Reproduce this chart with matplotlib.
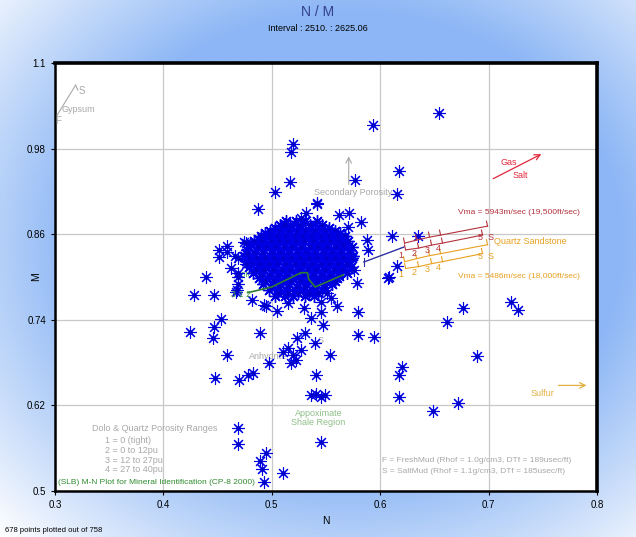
#M-N crossplot for mineral identification, redrawn from the log analysis screenshot

import numpy as np
import matplotlib.pyplot as plt

plt.rcParams['font.family'] = ['Liberation Sans Narrow', 'Liberation Sans', 'DejaVu Sans']

# Scattered points (N, M)
n_out = [0.654, 0.593, 0.520, 0.518, 0.517, 0.503, 0.487, 0.577, 0.617, 0.616,
         0.512, 0.542, 0.611, 0.635, 0.616, 0.608, 0.676, 0.662, 0.721, 0.727,
         0.689, 0.620, 0.617, 0.617, 0.649, 0.672, 0.469, 0.469, 0.495, 0.489,
         0.491, 0.493, 0.510, 0.545, 0.536, 0.541, 0.545, 0.549, 0.447, 0.467,
         0.428, 0.489, 0.459, 0.448, 0.470, 0.478, 0.483, 0.497, 0.510, 0.515,
         0.520, 0.522, 0.527, 0.518, 0.531, 0.523, 0.540, 0.547, 0.545, 0.554,
         0.541, 0.580, 0.580, 0.594, 0.425, 0.447, 0.453, 0.446, 0.451, 0.451,
         0.459, 0.469, 0.476, 0.477, 0.468, 0.469, 0.511, 0.542, 0.562, 0.571,
         0.582, 0.570, 0.588, 0.589, 0.474, 0.459, 0.466, 0.476, 0.469, 0.469,
         0.579, 0.576, 0.607, 0.493, 0.495, 0.505, 0.515, 0.530, 0.545, 0.555,
         0.560, 0.439, 0.462, 0.482, 0.536, 0.551, 0.566, 0.532, 0.527]
m_out = [1.030, 1.013, 0.987, 0.975, 0.933, 0.919, 0.895, 0.936, 0.949, 0.916,
         0.874, 0.902, 0.857, 0.857, 0.815, 0.800, 0.756, 0.737, 0.765, 0.754,
         0.689, 0.674, 0.662, 0.632, 0.612, 0.623, 0.588, 0.566, 0.553, 0.542,
         0.531, 0.512, 0.525, 0.568, 0.634, 0.636, 0.632, 0.635, 0.775, 0.779,
         0.775, 0.721, 0.690, 0.658, 0.655, 0.662, 0.665, 0.679, 0.695, 0.700,
         0.690, 0.683, 0.697, 0.680, 0.721, 0.715, 0.707, 0.733, 0.751, 0.690,
         0.662, 0.751, 0.719, 0.716, 0.723, 0.730, 0.741, 0.714, 0.838, 0.828,
         0.835, 0.827, 0.848, 0.834, 0.782, 0.805, 0.873, 0.904, 0.887, 0.890,
         0.877, 0.870, 0.852, 0.838, 0.849, 0.843, 0.830, 0.818, 0.800, 0.790,
         0.791, 0.810, 0.798, 0.761, 0.760, 0.752, 0.764, 0.757, 0.765, 0.770,
         0.760, 0.800, 0.812, 0.768, 0.742, 0.778, 0.846, 0.890, 0.882]

# Dense core of the cloud, one row of N readings for each M level
core_m = [0.878, 0.869, 0.861, 0.853, 0.846, 0.838, 0.830, 0.822, 0.814,
          0.806, 0.798, 0.790, 0.782, 0.774]
core_n = [
    [0.513, 0.522, 0.531, 0.542],
    [0.503, 0.511, 0.519, 0.527, 0.536, 0.544, 0.553],
    [0.494, 0.501, 0.509, 0.517, 0.524, 0.532, 0.540, 0.548, 0.556, 0.563],
    [0.487, 0.494, 0.502, 0.509, 0.517, 0.525, 0.533, 0.541, 0.549, 0.557, 0.565],
    [0.481, 0.489, 0.497, 0.505, 0.512, 0.520, 0.528, 0.536, 0.543, 0.551, 0.559, 0.567],
    [0.477, 0.485, 0.493, 0.500, 0.508, 0.516, 0.523, 0.531, 0.539, 0.547, 0.555, 0.563, 0.571],
    [0.474, 0.482, 0.490, 0.498, 0.505, 0.513, 0.521, 0.529, 0.537, 0.545, 0.553, 0.561, 0.569, 0.575],
    [0.476, 0.484, 0.492, 0.500, 0.507, 0.515, 0.523, 0.531, 0.539, 0.547, 0.555, 0.563, 0.571],
    [0.479, 0.487, 0.495, 0.503, 0.511, 0.518, 0.526, 0.534, 0.542, 0.550, 0.558, 0.566, 0.573],
    [0.483, 0.491, 0.499, 0.507, 0.514, 0.522, 0.530, 0.538, 0.546, 0.554, 0.562, 0.569],
    [0.488, 0.496, 0.504, 0.512, 0.520, 0.528, 0.536, 0.544, 0.552, 0.560],
    [0.492, 0.500, 0.508, 0.516, 0.524, 0.532, 0.540, 0.548, 0.556],
    [0.497, 0.505, 0.513, 0.521, 0.529, 0.537, 0.546],
    [0.503, 0.512, 0.520, 0.531, 0.539],
]
# second pass of readings between the rows above
core_m2 = [0.873, 0.865, 0.857, 0.850, 0.842, 0.834, 0.826, 0.818, 0.810,
           0.802, 0.794, 0.786, 0.778]
core_n2 = [
    [0.508, 0.517, 0.526, 0.535, 0.546],
    [0.498, 0.507, 0.515, 0.523, 0.531, 0.540, 0.549, 0.558],
    [0.490, 0.498, 0.505, 0.513, 0.521, 0.529, 0.537, 0.545, 0.553, 0.561, 0.568],
    [0.484, 0.491, 0.499, 0.507, 0.514, 0.522, 0.530, 0.538, 0.546, 0.554, 0.562, 0.570],
    [0.479, 0.487, 0.495, 0.503, 0.511, 0.519, 0.527, 0.535, 0.543, 0.551, 0.559, 0.567, 0.574],
    [0.476, 0.484, 0.492, 0.500, 0.508, 0.516, 0.524, 0.532, 0.540, 0.548, 0.556, 0.564, 0.572],
    [0.478, 0.486, 0.494, 0.502, 0.510, 0.518, 0.526, 0.534, 0.542, 0.550, 0.558, 0.566, 0.574],
    [0.481, 0.489, 0.497, 0.505, 0.513, 0.521, 0.529, 0.537, 0.545, 0.553, 0.561, 0.569],
    [0.485, 0.493, 0.501, 0.509, 0.517, 0.525, 0.533, 0.541, 0.549, 0.557, 0.565],
    [0.490, 0.498, 0.506, 0.514, 0.522, 0.530, 0.538, 0.546, 0.554, 0.562],
    [0.494, 0.502, 0.510, 0.518, 0.526, 0.534, 0.542, 0.550, 0.558],
    [0.499, 0.507, 0.515, 0.523, 0.531, 0.540, 0.549],
    [0.506, 0.515, 0.524, 0.534, 0.543],
]

# Reference overlays of the chart template
gypsum_n = [0.302, 0.319]
gypsum_m = [1.027, 1.069]
matrix_n = [0.585, 0.622]
matrix_m = [0.821, 0.842]
red_s_n = [0.6226, 0.6336, 0.6456, 0.6558, 0.6991]
red_s_m = [0.8475, 0.8517, 0.8559, 0.8587, 0.8713]
red_f_n = [0.6235, 0.6355, 0.6475, 0.6576, 0.6945]
red_f_m = [0.8380, 0.8405, 0.8447, 0.8475, 0.8588]
org_s_m = [0.8215, 0.8257, 0.8299, 0.8327, 0.8453]
org_f_m = [0.8120, 0.8145, 0.8187, 0.8215, 0.8328]
dolo_n = [0.478, 0.500, 0.527, 0.533, 0.534, 0.540, 0.566]
dolo_m = [0.778, 0.786, 0.806, 0.806, 0.797, 0.786, 0.803]

x_ticks = [0.3, 0.4, 0.5, 0.6, 0.7, 0.8]
y_ticks = [0.5, 0.62, 0.74, 0.86, 0.98, 1.1]
y_labels = ['0.5', '0.62', '0.74', '0.86', '0.98', '1.1']

fig = plt.figure(figsize=(6.36, 5.37), dpi=100)

# blue glow behind the plot
gx, gy = np.meshgrid(np.linspace(0, 1, 200), np.linspace(0, 1, 200))
r = np.sqrt((gx - 0.55) ** 2 + (gy - 0.55) ** 2)
t = np.clip((0.78 - r) / 0.35, 0, 1)[..., None]
blue = np.array([140, 182, 245]) / 255.0
bg = (1 - t) * np.ones(3) + t * blue
bgax = fig.add_axes([0, 0, 1, 1], zorder=-5)
bgax.imshow(bg, origin='lower', extent=[0, 1, 0, 1], aspect='auto')
bgax.axis('off')

ax = fig.add_axes([0.0865, 0.0857, 0.852, 0.797])
ax.set_facecolor('white')
ax.set_xlim(0.3, 0.8)
ax.set_ylim(0.5, 1.1)
ax.set_xticks(x_ticks)
ax.set_xticklabels([str(v) for v in x_ticks])
ax.set_yticks(y_ticks)
ax.set_yticklabels(y_labels)
ax.tick_params(labelsize=7, length=3, width=0.8)
ax.grid(True, color='#c8c8c8', lw=0.9)
ax.set_axisbelow(True)
for side in ['left', 'bottom']:
    ax.spines[side].set_linewidth(1.8)
for side in ['top', 'right']:
    ax.spines[side].set_linewidth(2.6)

star = dict(ls='none', marker=(8, 2, 0), ms=9, mew=0.8, color='#0000e6', zorder=3)
dot = dict(ls='none', marker='o', ms=2.2, color='#0000c8', zorder=3)
for mlev, nrows in [(core_m, core_n), (core_m2, core_n2)]:
    for mv, row in zip(mlev, nrows):
        ax.plot(row, [mv] * len(row), **dict(star, mew=1.0))
        ax.plot(row, [mv] * len(row), **dot)
ax.plot(n_out, m_out, **star)
ax.plot(n_out, m_out, **dot)

fs = 6
grey = '#a8a8a8'
# gypsum
ax.plot(gypsum_n, gypsum_m, color=grey, lw=0.8, zorder=4)
ax.plot([0.319, 0.321], [1.069, 1.062], color=grey, lw=0.8, zorder=4)
ax.text(0.322, 1.061, 'S', color=grey, fontsize=fs + 1, va='center')
ax.text(0.300, 1.018, 'F', color=grey, fontsize=fs + 1, va='center')
ax.text(0.306, 1.035, 'Gypsum', color=grey, fontsize=fs + 0.5, va='center')

# secondary porosity
ax.annotate('', xy=(0.571, 0.973), xytext=(0.571, 0.926),
            arrowprops=dict(arrowstyle='->', color=grey, lw=0.8), zorder=4)
ax.text(0.575, 0.918, 'Secondary Porosity', color=grey, fontsize=fs + 0.5, ha='center', va='center', zorder=4)

# gas / salt
ax.annotate('', xy=(0.751, 0.974), xytext=(0.702, 0.936),
            arrowprops=dict(arrowstyle='->', color='#e0283c', lw=0.9), zorder=4)
ax.text(0.719, 0.961, 'Gas', color='#e0283c', fontsize=fs + 0.5, ha='center', va='center')
ax.text(0.729, 0.942, 'Salt', color='#e0283c', fontsize=fs + 0.5, ha='center', va='center')

# matrix line and Vma porosity lines
ax.plot(matrix_n, matrix_m, color='#3030a0', lw=1, zorder=4)
ax.plot([0.585, 0.585], [0.815, 0.827], color='#3030a0', lw=0.8, zorder=4)
for pn, pm, col in [(red_s_n, red_s_m, '#b4323c'), (red_f_n, red_f_m, '#b4323c'),
                    (red_s_n, org_s_m, '#e8a020'), (red_f_n, org_f_m, '#e8a020')]:
    ax.plot(pn, pm, color=col, lw=0.8, zorder=4)
    for xv, yv in zip(pn, pm):
        ax.plot([xv - 0.001, xv], [yv + 0.007, yv], color=col, lw=0.8, zorder=4)
for mlist, col in [(red_f_m, '#b4323c'), (org_f_m, '#e8a020')]:
    for i, lab in enumerate(['1', '2', '3', '4']):
        ax.text(red_f_n[i] - 0.004, mlist[i] - 0.008, lab, color=col, fontsize=fs + 0.5,
                ha='center', va='center', zorder=4)
    ax.text(red_f_n[4] - 0.002, mlist[4] - 0.004, '5', color=col, fontsize=fs + 0.5, ha='center', va='center', zorder=4)
    ax.text(0.702, mlist[4] - 0.004, 'S', color=col, fontsize=fs + 0.5, ha='center', va='center', zorder=4)
ax.text(0.728, 0.891, 'Vma = 5943m/sec (19,500ft/sec)', color='#b4323c', fontsize=fs, ha='center', va='center')
ax.text(0.705, 0.850, 'Quartz Sandstone', color='#e8a020', fontsize=fs + 0.5, ha='left', va='center')
ax.text(0.728, 0.801, 'Vma = 5486m/sec (18,000ft/sec)', color='#e8a020', fontsize=fs, ha='center', va='center')

# dolomite
ax.plot(dolo_n, dolo_m, color='#2e7d32', lw=1.2, zorder=4)
ax.text(0.482, 0.803, 'Dolomite', color='#4caf50', fontsize=fs + 0.5, ha='center', va='center', zorder=2)
ax.text(0.472, 0.775, '3 1 2', color='#43a047', fontsize=fs + 0.5, ha='center', va='center', zorder=4)

# anhydrite, shale, sulfur
ax.text(0.497, 0.688, 'Anhydrite', color=grey, fontsize=fs + 0.5, ha='center', va='center', zorder=2)
ax.text(0.545, 0.711, 'S', color=grey, fontsize=fs + 0.5, ha='center', va='center', zorder=2)
ax.text(0.543, 0.602, 'Appoximate\nShale Region', color='#8fbf88', fontsize=fs + 0.5, ha='center', va='center',
        linespacing=1.0)
ax.annotate('', xy=(0.793, 0.648), xytext=(0.762, 0.648),
            arrowprops=dict(arrowstyle='->', color='#e0b040', lw=0.9))
ax.text(0.750, 0.637, 'Sulfur', color='#e0b040', fontsize=fs + 0.5, ha='center', va='center')

# legends written on the plot
ax.text(0.392, 0.588, 'Dolo & Quartz Porosity Ranges', color=grey, fontsize=fs + 0.5, ha='center', va='center')
for yv, txt in zip([0.571, 0.557, 0.543, 0.530],
                   ['1 = 0 (tight)', '2 = 0 to 12pu', '3 = 12 to 27pu', '4 = 27 to 40pu']):
    ax.text(0.346, yv, txt, color=grey, fontsize=fs + 0.5, ha='left', va='center')
ax.text(0.303, 0.512, '(SLB) M-N Plot for Mineral Identification (CP-8 2000)', color='#2e8b2e',
        fontsize=fs, ha='left', va='center')
ax.text(0.602, 0.543, 'F = FreshMud (Rhof = 1.0g/cm3, DTf = 189usec/ft)', color=grey, fontsize=fs, va='center')
ax.text(0.602, 0.528, 'S = SaltMud (Rhof = 1.1g/cm3, DTf = 185usec/ft)', color=grey, fontsize=fs, va='center')

ax.set_xlabel('N', fontsize=7.5)
ax.set_ylabel('M', fontsize=7.5)
ax.xaxis.set_label_coords(0.5, -0.058)
ax.yaxis.set_label_coords(-0.026, 0.5)

fig.text(0.5, 0.977, 'N / M', color='#34408c', fontsize=10, ha='center', va='center')
fig.text(0.5, 0.946, 'Interval : 2510. : 2625.06', color='black', fontsize=6.5, ha='center', va='center')
fig.text(0.008, 0.013, '678 points plotted out of 758', color='black', fontsize=5.5, ha='left', va='center')

plt.savefig('out.png', dpi=100)
